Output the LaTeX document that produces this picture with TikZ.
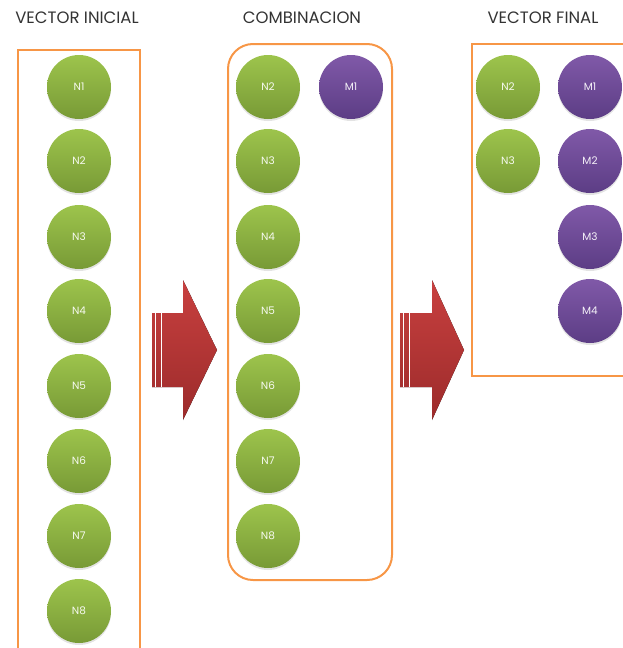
\documentclass[tikz,border=0pt]{standalone}
\usepackage{fontspec}
\setmainfont{Poppins}
\usetikzlibrary{shadows}
\definecolor{boxorange}{HTML}{F79646}
\definecolor{gtop}{HTML}{9DC44C}
\definecolor{gbot}{HTML}{789A36}
\definecolor{ptop}{HTML}{8059A8}
\definecolor{pbot}{HTML}{5C3D85}
\definecolor{rtop}{HTML}{C8403F}
\definecolor{rbot}{HTML}{9C2B2B}
\tikzset{
  gnode/.style={circle, minimum size=64pt, inner sep=0pt, top color=gtop, bottom color=gbot, draw=none,
    text=white!92!gtop, font=\fontsize{10.5}{10.5}\selectfont,
    drop shadow={opacity=0.22, shadow xshift=0pt, shadow yshift=-2pt}},
  pnode/.style={gnode, top color=ptop, bottom color=pbot, text=white!92!ptop},
  frame/.style={draw=boxorange, line width=2pt},
  title/.style={font=\fontsize{16.5}{18}\selectfont, text=black!80, inner sep=0pt},
  bigarrow/.style={top color=rtop, bottom color=rbot, draw=none},
}
\begin{document}
\begin{tikzpicture}[x=1pt,y=-1pt]
\useasboundingbox (0,0) rectangle (623,648);
% titles
\node[title] (t1) at (77,18) {VECTOR INICIAL};
\node[title] (t2) at (302,18) {COMBINACION};
\node[title] (t3) at (543,18) {VECTOR FINAL};
% frames
\draw[frame] (18,660) -- (18,50) -- (140,50) -- (140,660);
\draw[frame, rounded corners=25pt] (228,44) rectangle (392,580);
\draw[frame] (640,44) -- (472,44) -- (472,376) -- (640,376);
% left column
\foreach \i/\y in {1/87,2/161,3/237,4/311,5/386,6/461,7/536,8/611}
  \node[gnode] (a\i) at (79,\y) {N\i};
% middle
\foreach \i/\y in {2/87,3/161,4/237,5/311,6/386,7/461,8/536}
  \node[gnode] (b\i) at (268,\y) {N\i};
\node[pnode] (bm1) at (351,87) {M1};
% right
\node[gnode] (c2) at (508,87) {N2};
\node[gnode] (c3) at (508,161) {N3};
\foreach \i/\y in {1/87,2/161,3/237,4/311}
  \node[pnode] (cm\i) at (590,\y) {M\i};
% arrows
\fill[bigarrow] (152,313) -- (183,313) -- (183,280) -- (217,350) -- (183,420) -- (183,387) -- (152,387) -- cycle;
\draw[white, line width=1pt] (155.5,313) -- (155.5,387) (161,313) -- (161,387);
\fill[bigarrow] (400,313) -- (432,313) -- (432,280) -- (464,350) -- (432,420) -- (432,387) -- (400,387) -- cycle;
\draw[white, line width=1pt] (403.5,313) -- (403.5,387) (409,313) -- (409,387);
\end{tikzpicture}
\end{document}
